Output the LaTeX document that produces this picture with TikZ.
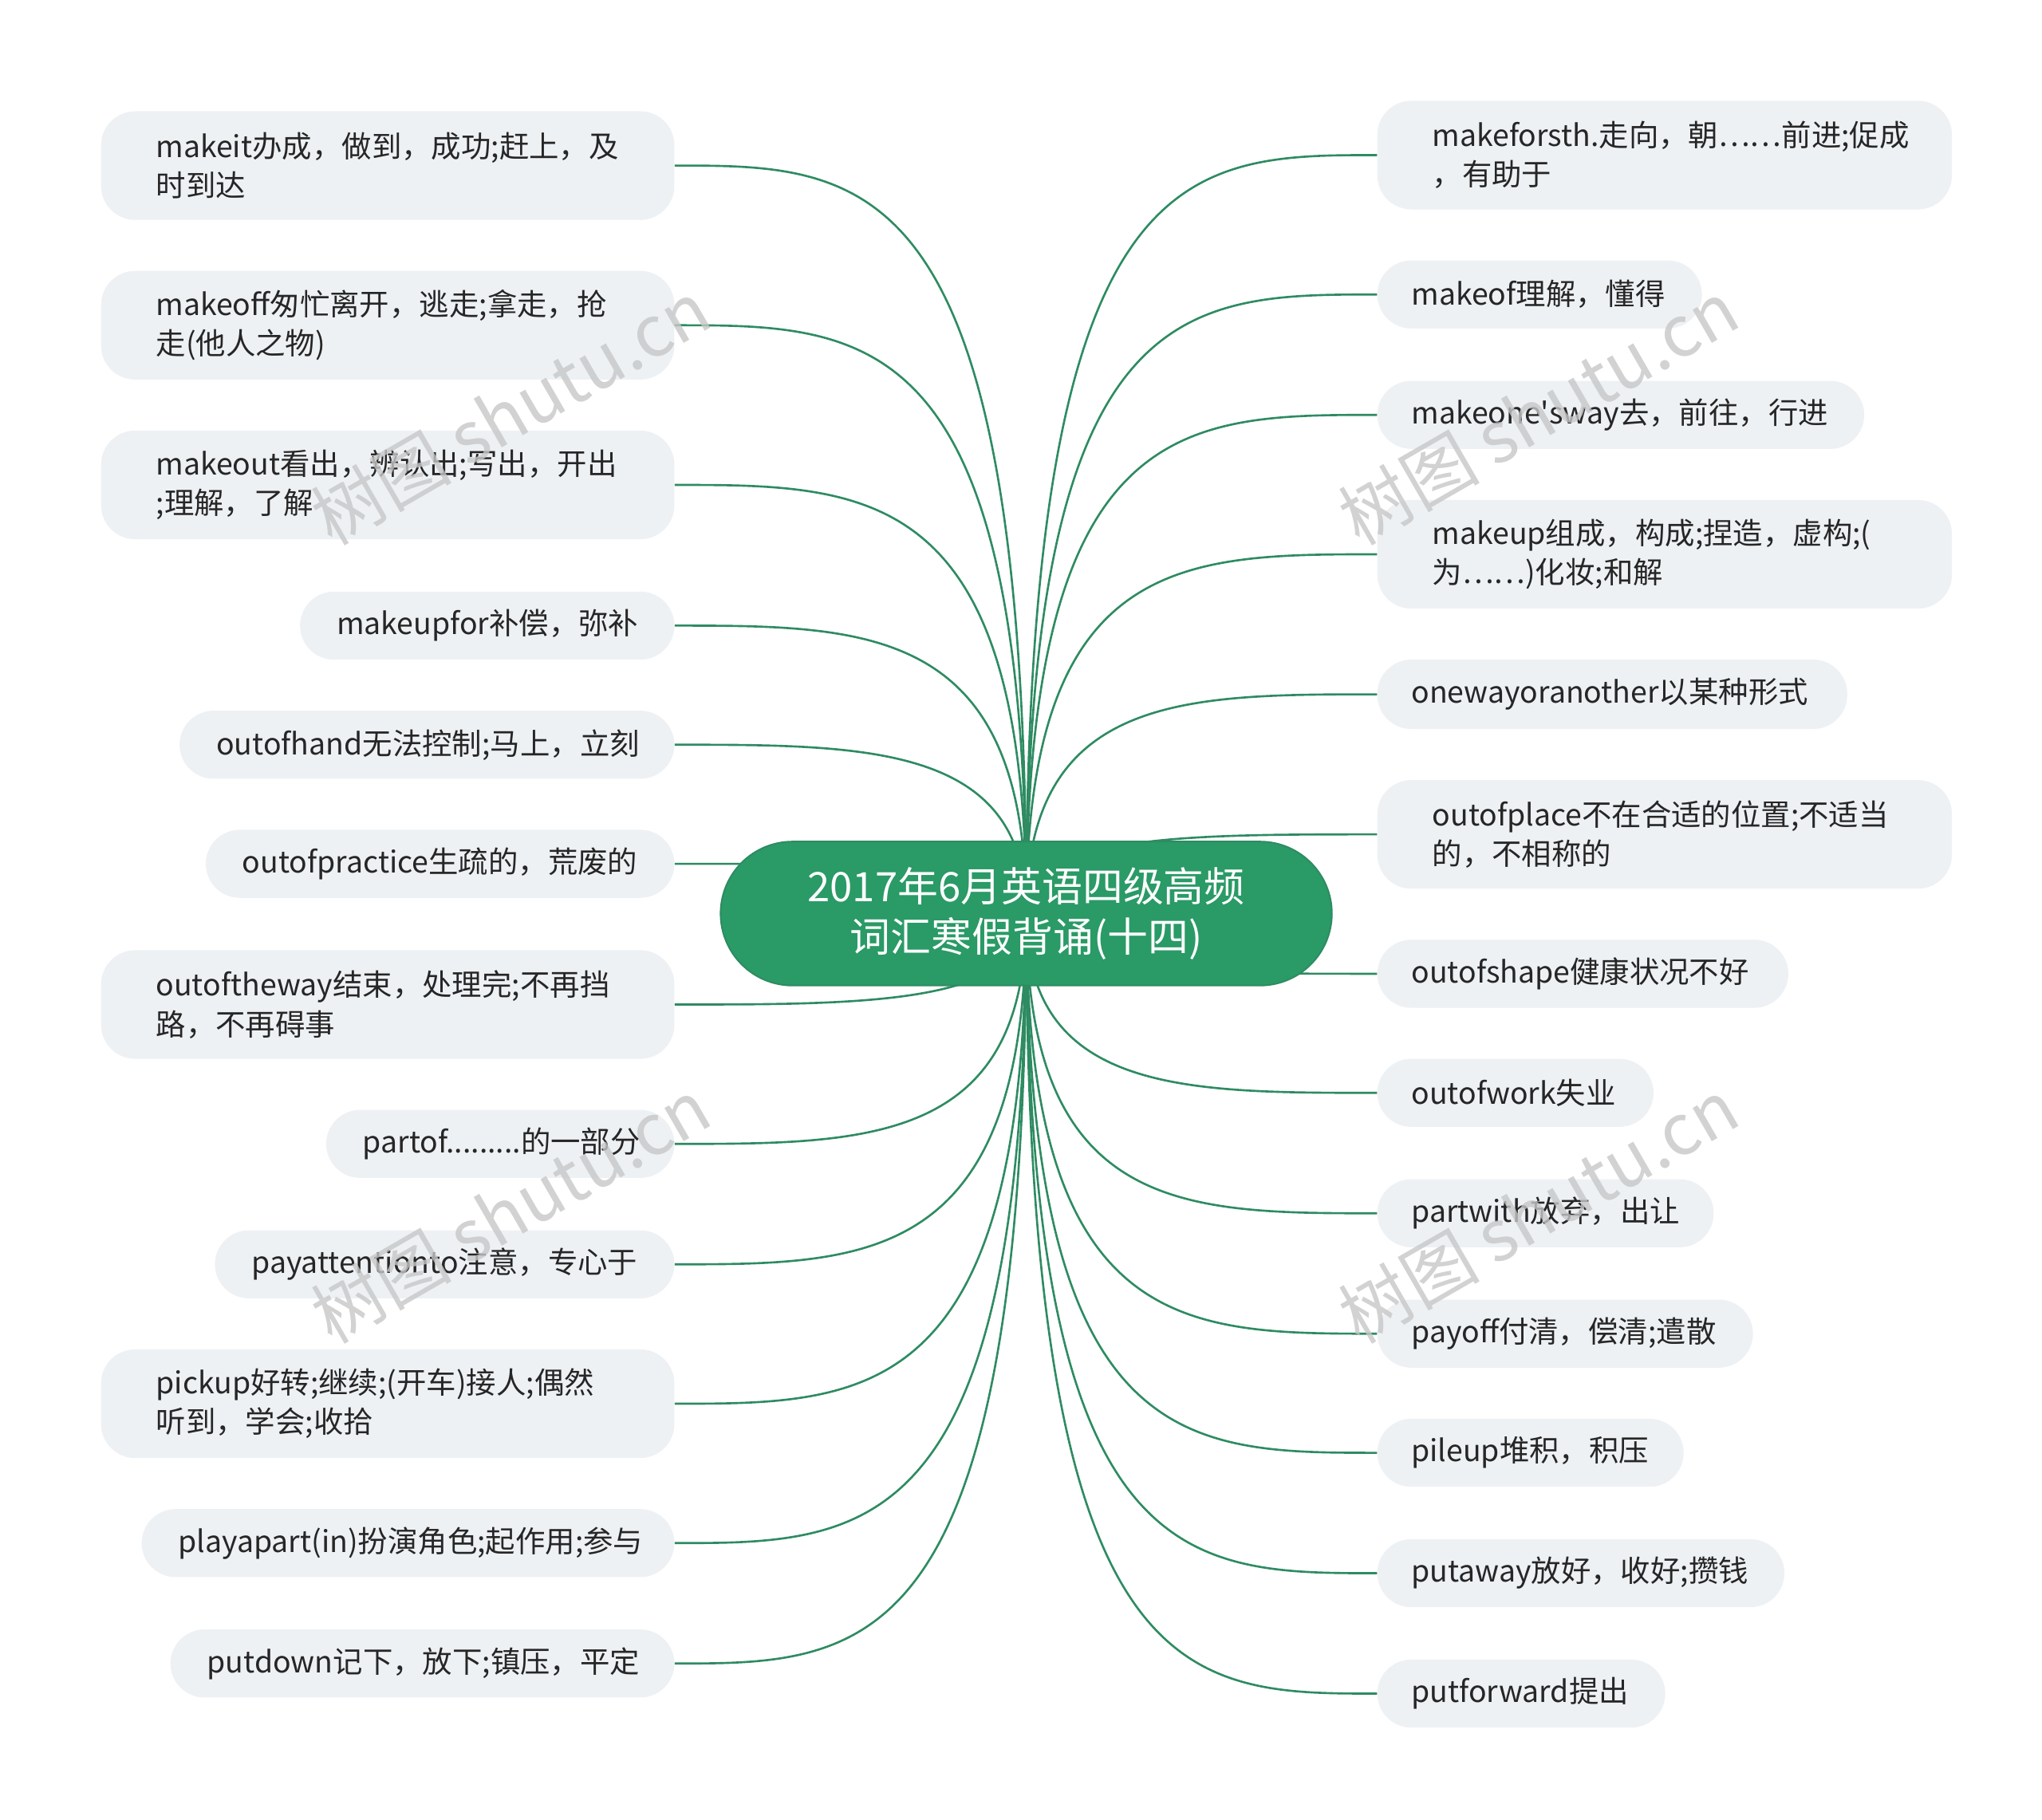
\documentclass[tikz,border=0pt]{standalone}
\usepackage{fontspec}
\setmainfont{Noto Sans CJK SC}
\usetikzlibrary{calc}
\definecolor{lc}{HTML}{2E8B62}
\definecolor{lf}{HTML}{EEF1F4}
\definecolor{cf}{HTML}{2A9A66}
\tikzset{
 leaf/.style={draw=none,fill=lf,rounded corners=26pt,align=left,font=\fontsize{22.8}{30}\selectfont,text=black!85,inner ysep=0pt,anchor=west},
 con/.style={draw=lc,line width=1.6pt},
 wm/.style={text=black!22,opacity=0.8,rotate=30,font=\fontsize{54}{54}\selectfont}
}
\hbadness=10000 \hfuzz=100pt
\newcommand{\lleaf}[7]{\node[leaf,minimum width=#4-#2,minimum height=#5-#3,text width=#4-#2-2*#6,inner xsep=#6] (#1) at (#2,{(#3+#5)/2}) {#7};}
\begin{document}
\begin{tikzpicture}[x=1pt,y=-1pt]
\useasboundingbox[fill=white] (0,0) rectangle (1560,1390);
\coordinate (c) at (784,698);
\lleaf{L1}{77}{85}{515}{168}{42}{makeit办成，做到，成功;赶上，及\\时到达}
\lleaf{L2}{77}{207}{515}{290}{42}{makeoff匆忙离开，逃走;拿走，抢\\走(他人之物)}
\lleaf{L3}{77}{329}{515}{412}{42}{makeout看出，辨认出;写出，开出\\;理解，了解}
\lleaf{L4}{229}{452}{515}{504}{28}{makeupfor补偿，弥补}
\lleaf{L5}{137}{543}{515}{595}{28}{outofhand无法控制;马上，立刻}
\lleaf{L6}{157}{634}{515}{686}{28}{outofpractice生疏的，荒废的}
\lleaf{L7}{77}{726}{515}{809}{42}{outoftheway结束，处理完;不再挡\\路，不再碍事}
\lleaf{L8}{249}{848}{515}{900}{28}{partof.........的一部分}
\lleaf{L9}{164}{940}{515}{992}{28}{payattentionto注意，专心于}
\lleaf{L10}{77}{1031}{515}{1114}{42}{pickup好转;继续;(开车)接人;偶然\\听到，学会;收拾}
\lleaf{L11}{108}{1153}{515}{1205}{28}{playapart(in)扮演角色;起作用;参与}
\lleaf{L12}{130}{1245}{515}{1297}{28}{putdown记下，放下;镇压，平定}
\lleaf{R1}{1052}{77}{1491}{160}{42}{makeforsth.走向，朝……前进;促成\\，有助于}
\lleaf{R2}{1052}{199}{1300}{251}{26}{makeof理解，懂得}
\lleaf{R3}{1052}{291}{1424}{343}{26}{makeone\textquotesingle sway去，前往，行进}
\lleaf{R4}{1052}{382}{1491}{465}{42}{makeup组成，构成;捏造，虚构;(\\为……)化妆;和解}
\lleaf{R5}{1052}{504}{1411}{557}{26}{onewayoranother以某种形式}
\lleaf{R6}{1052}{596}{1491}{679}{42}{outofplace不在合适的位置;不适当\\的，不相称的}
\lleaf{R7}{1052}{718}{1366}{770}{26}{outofshape健康状况不好}
\lleaf{R8}{1052}{809}{1263}{861}{26}{outofwork失业}
\lleaf{R9}{1052}{901}{1309}{953}{26}{partwith放弃，出让}
\lleaf{R10}{1052}{993}{1339}{1045}{26}{payoff付清，偿清;遣散}
\lleaf{R11}{1052}{1084}{1286}{1136}{26}{pileup堆积，积压}
\lleaf{R12}{1052}{1176}{1363}{1228}{26}{putaway放好，收好;攒钱}
\lleaf{R13}{1052}{1268}{1272}{1320}{26}{putforward提出}
\foreach \n in {L1,L2,L3,L4,L5,L6,L7,L8,L9,L10,L11,L12}
 \draw[con] (\n.east) .. controls ($(\n.east)!0.55!(c |- \n.east)$) and (c |- \n.east) .. (c);
\foreach \n in {R1,R2,R3,R4,R5,R6,R7,R8,R9,R10,R11,R12,R13}
 \draw[con] (\n.west) .. controls ($(\n.west)!0.55!(c |- \n.west)$) and (c |- \n.west) .. (c);
\node[draw=lc,line width=1.2pt,fill=cf,rounded corners=55pt,minimum width=467,minimum height=110,text=white,align=center,font=\fontsize{31}{38}\selectfont] (ctr) at (c) {2017年6月英语四级高频\\词汇寒假背诵(十四)};
\node[wm] (w1) at (390,315) {树图 shutu.cn};
\node[wm] (w2) at (1175,315) {树图 shutu.cn};
\node[wm] (w3) at (390,925) {树图 shutu.cn};
\node[wm] (w4) at (1175,925) {树图 shutu.cn};
\end{tikzpicture}
\end{document}
